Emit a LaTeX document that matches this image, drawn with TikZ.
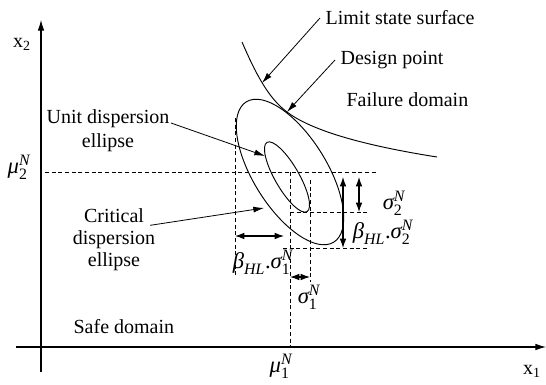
\documentclass[tikz,border=0pt]{standalone}
\usepackage{amsmath}
\usepackage{fontspec}
\setmainfont{Liberation Serif}
\usetikzlibrary{arrows.meta,positioning}

% italic symbol with super- and subscript
\newcommand{\msym}[3]{$\textit{#1}_{\text{#3}}^{\textit{#2}}$}
\newcommand{\bhl}{$\textit{β}_{\textit{HL}}$}

\begin{document}
\begin{tikzpicture}[
  x=0.75pt, y=-0.75pt,
  font=\fontsize{15}{18}\selectfont,
  lbl/.style={inner sep=1pt, align=center},
  sym/.style={inner sep=0pt, font=\fontsize{17}{20}\selectfont},
  tag/.style={inner sep=4pt, anchor=west},
  ptr/.style={-{Latex[length=8pt,width=4.5pt]}, line width=0.6pt},
  dim/.style={{Latex[length=7pt,width=5pt]}-{Latex[length=7pt,width=5pt]}, line width=0.8pt},
  guide/.style={dash pattern=on 3pt off 2pt, line width=0.5pt},
  axis/.style={-{Latex[length=8pt,width=5pt]}, line width=0.8pt},
]
  \useasboundingbox (0,0) rectangle (546,385);

  % axes
  \coordinate (xs) at (16,347);
  \coordinate (xe) at (546,347);
  \coordinate (ys) at (41,372);
  \coordinate (ye) at (41,20);
  \draw[axis] (xs) -- (xe);
  \draw[axis] (ys) -- (ye);
  \node[lbl] (xlab) at (532,371) {x\textsubscript{1}};
  \node[lbl] (ylab) at (22,44) {x\textsubscript{2}};

  % mean point and guide lines
  \coordinate (mu) at (290,172);
  \node[sym] (mu2) at (19,167) {\msym{μ}{N}{2}};
  \node[sym] (mu1) at (281,366) {\msym{μ}{N}{1}};
  \draw[guide] (45,172) -- (377,172);
  \draw[guide] (mu) -- (290,348);
  \draw[guide] (235,118) -- (235,275);
  \draw[guide] (283,248) -- (368,248);
  \draw[guide] (290,212) -- (368,212);
  \draw[guide] (310,180) -- (310,282);

  % dispersion ellipses
  \draw[line width=0.7pt, rotate around={-58:(mu)}] (mu) ellipse [x radius=62pt, y radius=27.5pt];
  \coordinate (ictr) at (287,177);
  \draw[line width=0.7pt, rotate around={-60:(ictr)}] (ictr) ellipse [x radius=30pt, y radius=9pt];

  % limit state surface
  \coordinate (dp) at (287,112);
  \coordinate (lsp) at (262,83);
  \draw[line width=0.7pt] (242,42) .. controls (255,72) and (268,98) .. (dp)
        .. controls (316,134) and (380,148) .. (437,157);

  % dimension arrows
  \draw[dim] (343,177) -- (343,248);
  \draw[dim] (359,177) -- (359,212);
  \draw[dim] (235,236) -- (284,236);
  \draw[dim] (290,277) -- (310,277);
  \node[sym] (s2) at (394,203) {\msym{σ}{N}{2}};
  \node[sym] (bs2) at (383,232) {\bhl.\msym{σ}{N}{2}};
  \node[sym] (bs1) at (263,262) {\bhl.\msym{σ}{N}{1}};
  \node[sym] (s1) at (309,297) {\msym{σ}{N}{1}};

  % text labels
  \node[tag] (lss) at (320,18) {Limit state surface};
  \node[tag] (dpt) at (335,60) {Design point};
  \node[tag] (fail) at (341,100) {Failure domain};
  \node[tag] (safe) at (68,327) {Safe domain};
  \node[lbl] (ude) at (108,131) {Unit dispersion\\ellipse};
  \node[lbl, font=\fontsize{15}{16.5}\selectfont] (crit) at (114,240) {Critical\\dispersion\\ellipse};

  \coordinate (ipt) at (265,156);
  \coordinate (opt) at (264,208);
  \draw[ptr] (lss.west) -- (lsp);
  \draw[ptr] (dpt.west) -- (dp);
  \draw[ptr] ([yshift=-11pt]ude.north east) -- (ipt);
  \draw[ptr] ([xshift=-5pt,yshift=-13.5pt]crit.north east) -- (opt);
\end{tikzpicture}
\end{document}
